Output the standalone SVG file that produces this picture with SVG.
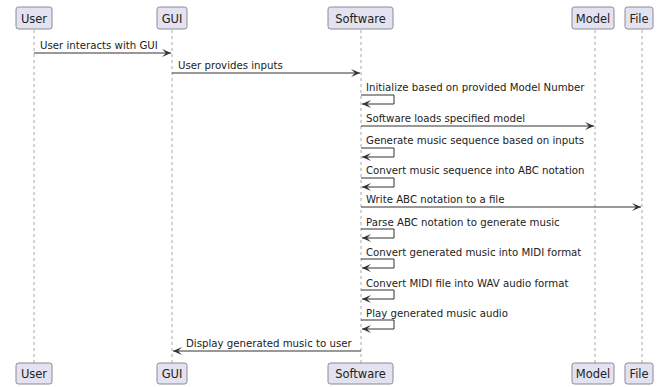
<svg xmlns="http://www.w3.org/2000/svg" width="662" height="387" viewBox="0 0 662 387">
<style>
.box{fill:#E2E2F0;stroke:#8a8a96;stroke-width:1}
.pl{font-family:"DejaVu Sans",sans-serif;font-size:11.5px;fill:#222;text-anchor:middle}
.life{stroke:#a8a8a8;stroke-width:1;stroke-dasharray:3,3;fill:none}
.msg{stroke:#333;stroke-width:1;fill:none}
.ml{font-family:"DejaVu Sans",sans-serif;font-size:10.2px;fill:#222}
</style>
<defs>
<marker id="ah" markerWidth="10" markerHeight="8" refX="9" refY="4" orient="auto" markerUnits="userSpaceOnUse">
<path d="M0,0 L9,4 L0,8 L4,4 Z" fill="#333"/>
</marker>
</defs>
<rect width="662" height="387" fill="#fff"/>
<g id="lifelines">
<line class="life" x1="34" y1="30" x2="34" y2="363"/>
<line class="life" x1="172" y1="30" x2="172" y2="363"/>
<line class="life" x1="361" y1="30" x2="361" y2="363"/>
<line class="life" x1="595" y1="30" x2="595" y2="363"/>
<line class="life" x1="642" y1="30" x2="642" y2="363"/>
</g>
<g id="User">
<rect class="box" x="16" y="7" width="36" height="22" rx="2.5"/>
<text class="pl" x="34" y="22.5">User</text>
<rect class="box" x="16" y="363" width="36" height="21" rx="2.5"/>
<text class="pl" x="34" y="378">User</text>
</g>
<g id="GUI">
<rect class="box" x="157" y="7" width="30" height="22" rx="2.5"/>
<text class="pl" x="172" y="22.5">GUI</text>
<rect class="box" x="157" y="363" width="30" height="21" rx="2.5"/>
<text class="pl" x="172" y="378">GUI</text>
</g>
<g id="Software">
<rect class="box" x="328" y="7" width="65" height="22" rx="2.5"/>
<text class="pl" x="360.5" y="22.5">Software</text>
<rect class="box" x="328" y="363" width="65" height="21" rx="2.5"/>
<text class="pl" x="360.5" y="378">Software</text>
</g>
<g id="Model">
<rect class="box" x="572" y="7" width="42" height="22" rx="2.5"/>
<text class="pl" x="593" y="22.5">Model</text>
<rect class="box" x="572" y="363" width="42" height="21" rx="2.5"/>
<text class="pl" x="593" y="378">Model</text>
</g>
<g id="File">
<rect class="box" x="625" y="7" width="28" height="22" rx="2.5"/>
<text class="pl" x="639" y="22.5">File</text>
<rect class="box" x="625" y="363" width="28" height="21" rx="2.5"/>
<text class="pl" x="639" y="378">File</text>
</g>
<g id="connectors">
<line class="msg" x1="34" y1="53" x2="171" y2="53" marker-end="url(#ah)"/>
<text class="ml" x="40" y="49">User interacts with GUI</text>
<line class="msg" x1="172" y1="73" x2="360" y2="73" marker-end="url(#ah)"/>
<text class="ml" x="178" y="69">User provides inputs</text>
<polyline class="msg" points="361,95 394,95 394,104 362,104" marker-end="url(#ah)"/>
<text class="ml" x="366" y="91">Initialize based on provided Model Number</text>
<line class="msg" x1="361" y1="126" x2="594" y2="126" marker-end="url(#ah)"/>
<text class="ml" x="366" y="122">Software loads specified model</text>
<polyline class="msg" points="361,148 394,148 394,157 362,157" marker-end="url(#ah)"/>
<text class="ml" x="366" y="144">Generate music sequence based on inputs</text>
<polyline class="msg" points="361,178 394,178 394,187 362,187" marker-end="url(#ah)"/>
<text class="ml" x="366" y="174">Convert music sequence into ABC notation</text>
<line class="msg" x1="361" y1="207" x2="641" y2="207" marker-end="url(#ah)"/>
<text class="ml" x="366" y="203">Write ABC notation to a file</text>
<polyline class="msg" points="361,229 394,229 394,238 362,238" marker-end="url(#ah)"/>
<text class="ml" x="366" y="226">Parse ABC notation to generate music</text>
<polyline class="msg" points="361,259 394,259 394,268 362,268" marker-end="url(#ah)"/>
<text class="ml" x="366" y="256">Convert generated music into MIDI format</text>
<polyline class="msg" points="361,290 394,290 394,299 362,299" marker-end="url(#ah)"/>
<text class="ml" x="366" y="287">Convert MIDI file into WAV audio format</text>
<polyline class="msg" points="361,320 394,320 394,329 362,329" marker-end="url(#ah)"/>
<text class="ml" x="366" y="317">Play generated music audio</text>
<line class="msg" x1="361" y1="351" x2="173" y2="351" marker-end="url(#ah)"/>
<text class="ml" x="186" y="347">Display generated music to user</text>
</g>
</svg>
